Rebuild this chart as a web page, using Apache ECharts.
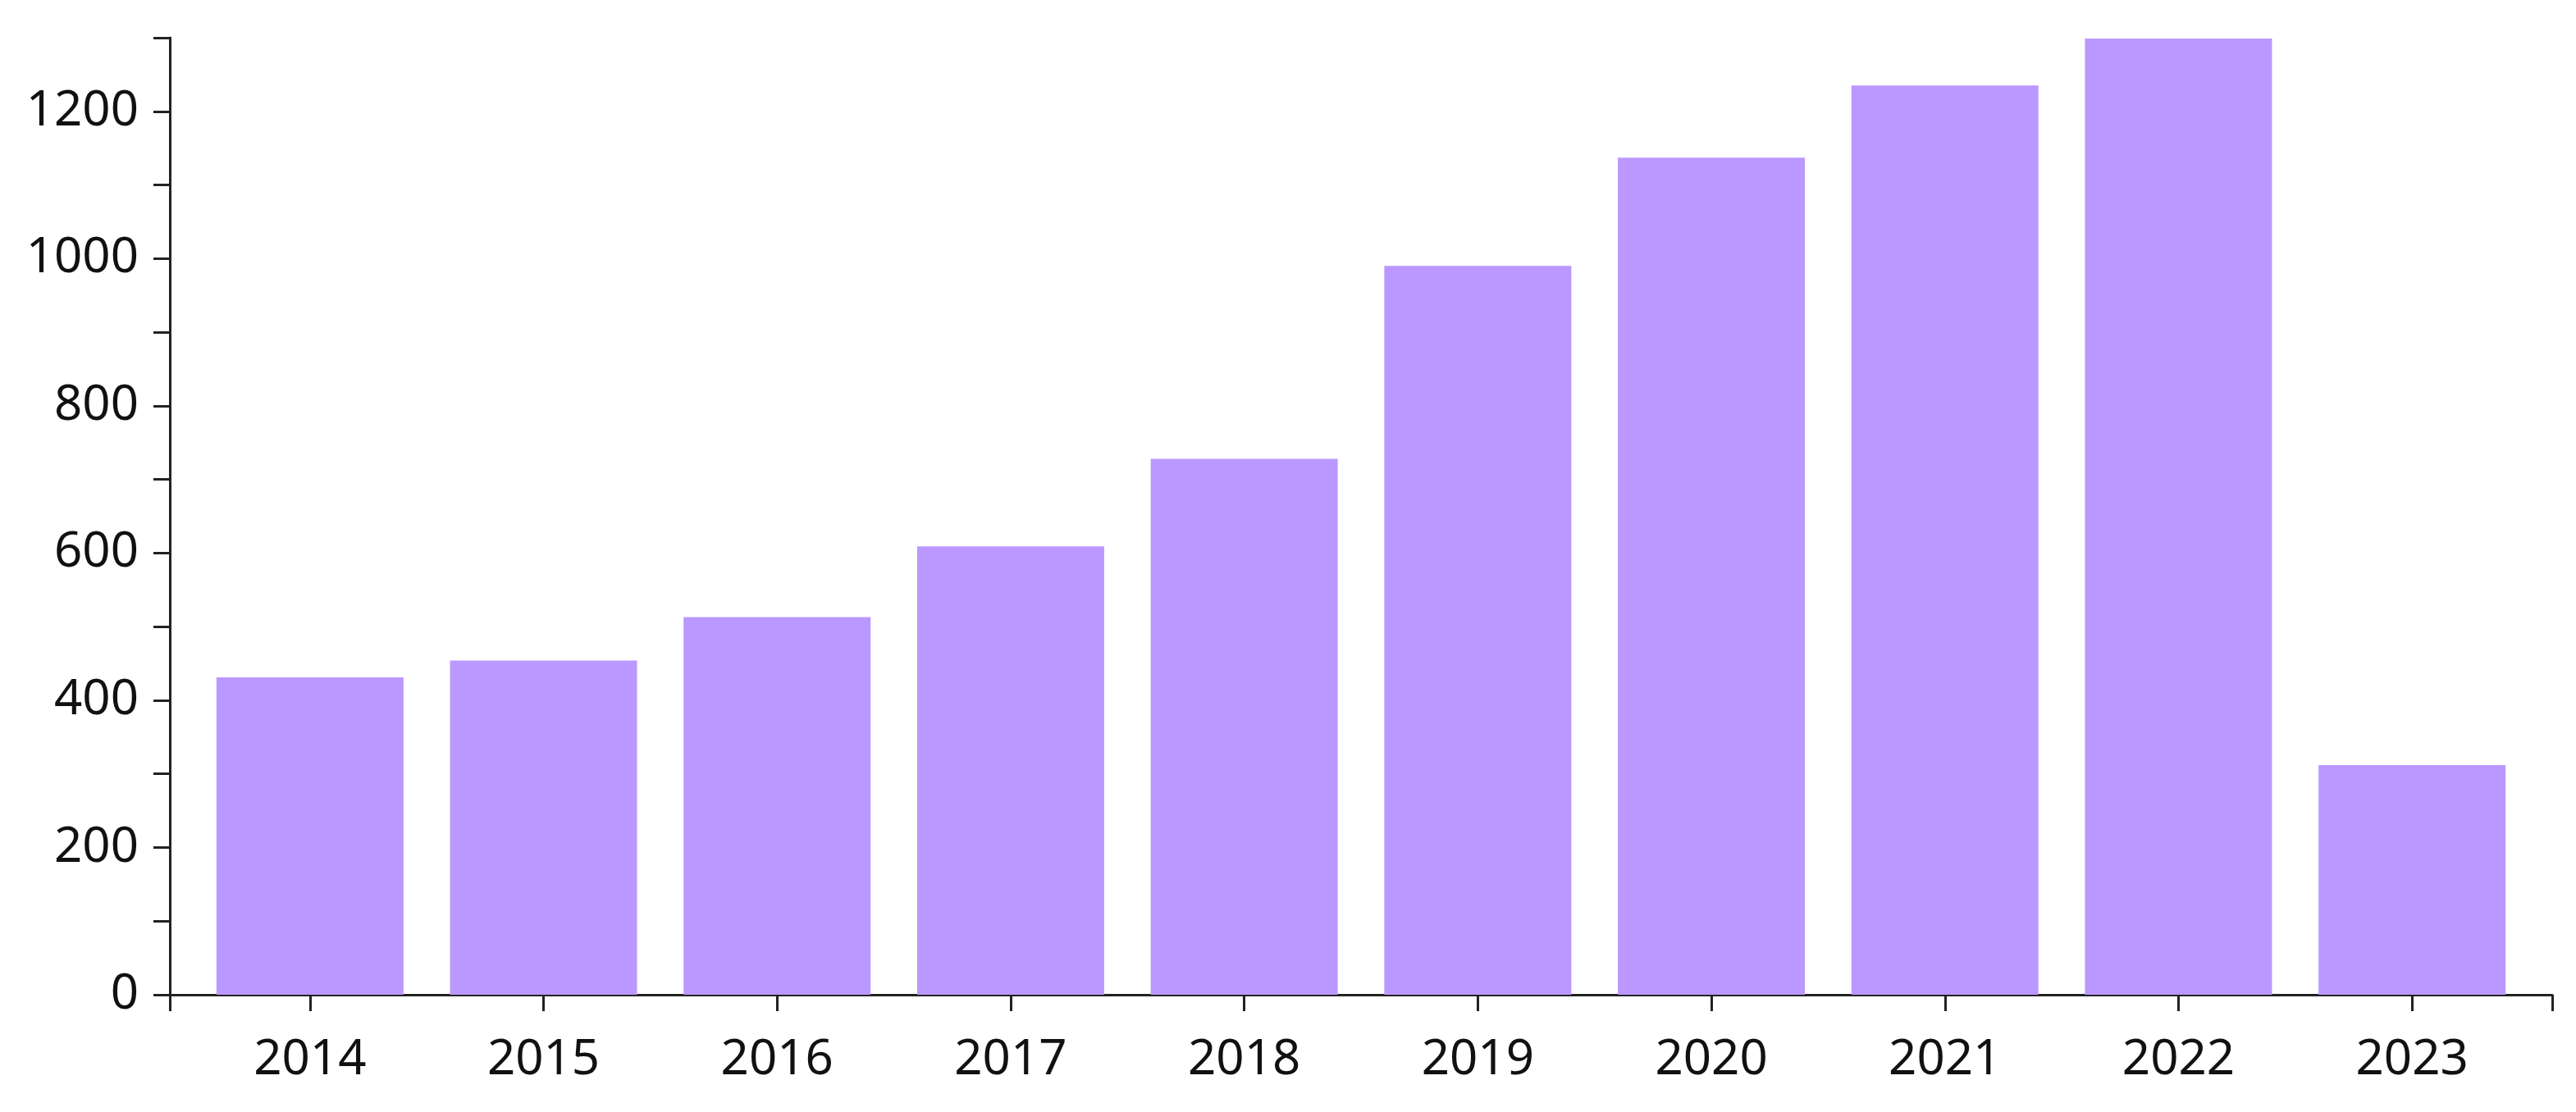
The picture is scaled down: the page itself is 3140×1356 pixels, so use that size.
<!DOCTYPE html>
<html>
<head>
<meta charset="utf-8">
<script src="https://cdn.jsdelivr.net/npm/echarts@6/dist/echarts.min.js"></script>
<style>
    html, body { margin: 0; padding: 0; background: #fff; }
    #chart { width: 3140px; height: 1356px; }
</style>
</head>
<body>
<div id="chart"></div>
<script>
    // data
    var years = ['2014', '2015', '2016', '2017', '2018', '2019', '2020', '2021', '2022', '2023'];
    var values = [431, 454, 513, 609, 728, 990, 1137, 1235, 1299, 312];
    var yLabelValues = [0, 200, 400, 600, 800, 1000, 1200];

    var axisColor = '#222';
    var textStyle = { color: '#111', fontFamily: 'Noto Sans', fontSize: 60 };

    // bars sit on a value x axis so the axis line can run past the first and last year
    var barData = values.map(function (v, i) { return [i, v]; });
    var xTicks = [-0.6].concat(years.map(function (y, i) { return i; }), [9.6]);

    var chart = echarts.init(document.getElementById('chart'));
    chart.setOption({
        animation: false,
        backgroundColor: '#fff',
        grid: { left: 207, right: 29, top: 46, bottom: 143, containLabel: false },
        xAxis: {
            type: 'value',
            min: -0.6,
            max: 9.6,
            splitLine: { show: false },
            axisLine: { show: true, onZero: false, lineStyle: { color: axisColor, width: 3 } },
            axisTick: { show: true, length: 20, customValues: xTicks, lineStyle: { color: axisColor, width: 3 } },
            axisLabel: {
                customValues: years.map(function (y, i) { return i; }),
                margin: 50,
                color: textStyle.color,
                fontFamily: textStyle.fontFamily,
                fontSize: textStyle.fontSize,
                formatter: function (v) { return years[Math.round(v)]; }
            }
        },
        yAxis: {
            type: 'value',
            min: 0,
            max: 1300,
            interval: 100,
            splitLine: { show: false },
            axisLine: { show: true, onZero: false, lineStyle: { color: axisColor, width: 3 } },
            axisTick: { show: true, length: 20, lineStyle: { color: axisColor, width: 3 } },
            axisLabel: {
                margin: 38,
                color: textStyle.color,
                fontFamily: textStyle.fontFamily,
                fontSize: textStyle.fontSize,
                formatter: function (v) { return yLabelValues.indexOf(v) >= 0 ? String(v) : ''; }
            }
        },
        series: [{
            type: 'bar',
            data: barData,
            barWidth: 228,
            itemStyle: { color: '#bb98ff' }
        }]
    });
</script>
</body>
</html>
